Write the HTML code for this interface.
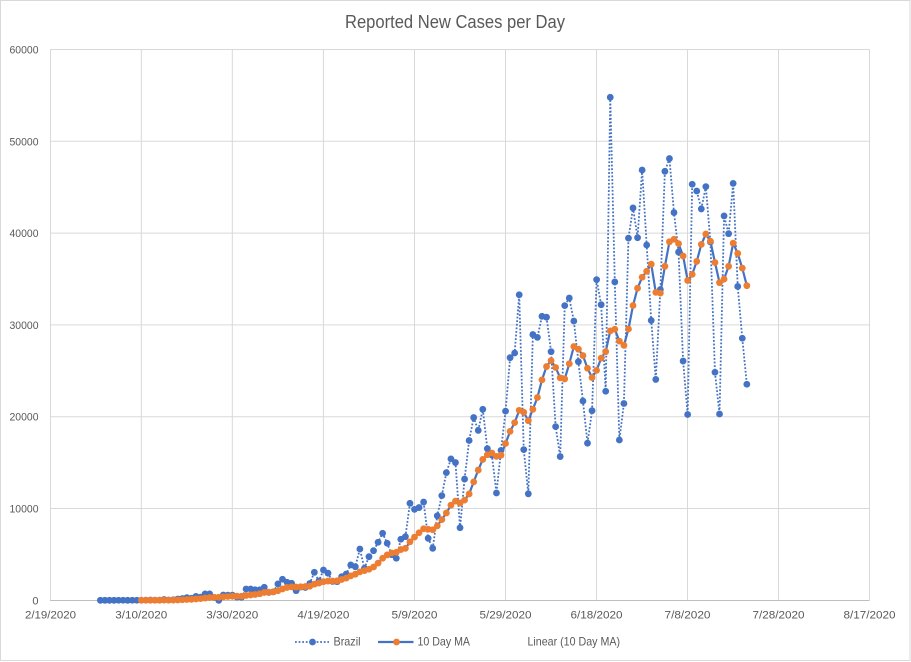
<!DOCTYPE html>
<html>
<head>
<meta charset="utf-8">
<style>
html,body{margin:0;padding:0;background:#fff;}
svg{display:block;}
text{font-family:"Liberation Sans",Arial,sans-serif;fill:#595959;}
</style>
</head>
<body>
<svg id="chart" width="911" height="662" viewBox="0 0 911 662" xmlns="http://www.w3.org/2000/svg">
  <rect x="0.5" y="0.5" width="909.5" height="660" fill="#fff" stroke="#d9d9d9" stroke-width="1"/>
  <text x="455" y="28" font-size="18" text-anchor="middle" textLength="220" lengthAdjust="spacingAndGlyphs">Reported New Cases per Day</text>

  <g id="grid" stroke="#d9d9d9" stroke-width="1" fill="none">
    <line x1="50" y1="49.5" x2="869.5" y2="49.5"/>
    <line x1="50" y1="141.3" x2="869.5" y2="141.3"/>
    <line x1="50" y1="233.1" x2="869.5" y2="233.1"/>
    <line x1="50" y1="324.9" x2="869.5" y2="324.9"/>
    <line x1="50" y1="416.7" x2="869.5" y2="416.7"/>
    <line x1="50" y1="508.5" x2="869.5" y2="508.5"/>
    <line x1="50.5" y1="49.5" x2="50.5" y2="600.3"/>
    <line x1="141.3" y1="49.5" x2="141.3" y2="600.3"/>
    <line x1="232.3" y1="49.5" x2="232.3" y2="600.3"/>
    <line x1="323.4" y1="49.5" x2="323.4" y2="600.3"/>
    <line x1="414.5" y1="49.5" x2="414.5" y2="600.3"/>
    <line x1="505.5" y1="49.5" x2="505.5" y2="600.3"/>
    <line x1="596.5" y1="49.5" x2="596.5" y2="600.3"/>
    <line x1="687.5" y1="49.5" x2="687.5" y2="600.3"/>
    <line x1="778.5" y1="49.5" x2="778.5" y2="600.3"/>
    <line x1="869.5" y1="49.5" x2="869.5" y2="600.3"/>
  </g>
  <line x1="50" y1="600.5" x2="869.5" y2="600.5" stroke="#bfbfbf" stroke-width="1"/>

  <g font-size="11" text-anchor="end">
    <text x="38.5" y="53.5" textLength="29" lengthAdjust="spacingAndGlyphs">60000</text>
    <text x="38.5" y="145.3" textLength="29" lengthAdjust="spacingAndGlyphs">50000</text>
    <text x="38.5" y="237.1" textLength="29" lengthAdjust="spacingAndGlyphs">40000</text>
    <text x="38.5" y="328.9" textLength="29" lengthAdjust="spacingAndGlyphs">30000</text>
    <text x="38.5" y="420.7" textLength="29" lengthAdjust="spacingAndGlyphs">20000</text>
    <text x="38.5" y="512.5" textLength="29" lengthAdjust="spacingAndGlyphs">10000</text>
    <text x="38.5" y="604.3">0</text>
  </g>

  <g font-size="11" text-anchor="middle">
    <text x="50.5" y="618.5" textLength="51" lengthAdjust="spacingAndGlyphs">2/19/2020</text>
    <text x="141.3" y="618.5" textLength="52" lengthAdjust="spacingAndGlyphs">3/10/2020</text>
    <text x="232.3" y="618.5" textLength="52" lengthAdjust="spacingAndGlyphs">3/30/2020</text>
    <text x="323.4" y="618.5" textLength="52" lengthAdjust="spacingAndGlyphs">4/19/2020</text>
    <text x="414.5" y="618.5" textLength="46" lengthAdjust="spacingAndGlyphs">5/9/2020</text>
    <text x="505.5" y="618.5" textLength="52" lengthAdjust="spacingAndGlyphs">5/29/2020</text>
    <text x="596.5" y="618.5" textLength="52" lengthAdjust="spacingAndGlyphs">6/18/2020</text>
    <text x="687.5" y="618.5" textLength="46" lengthAdjust="spacingAndGlyphs">7/8/2020</text>
    <text x="778.5" y="618.5" textLength="52" lengthAdjust="spacingAndGlyphs">7/28/2020</text>
    <text x="869.5" y="618.5" textLength="52" lengthAdjust="spacingAndGlyphs">8/17/2020</text>
  </g>

  <g id="series"></g>

  <!-- legend -->
  <line x1="295" y1="642" x2="329" y2="642" stroke="#4472C4" stroke-width="1.8" stroke-dasharray="1.8 1.8"/>
  <circle cx="312.5" cy="642" r="3.4" fill="#4472C4"/>
  <text x="333.5" y="645.5" font-size="12" textLength="27" lengthAdjust="spacingAndGlyphs">Brazil</text>
  <line x1="378" y1="642" x2="413.5" y2="642" stroke="#4472C4" stroke-width="2.2"/>
  <circle cx="396.5" cy="642" r="3.4" fill="#ED7D31"/>
  <text x="417.5" y="645.5" font-size="12" textLength="52.5" lengthAdjust="spacingAndGlyphs">10 Day MA</text>
  <text x="527.5" y="645.5" font-size="12" textLength="92.5" lengthAdjust="spacingAndGlyphs">Linear (10 Day MA)</text>
</svg>
<script>
(function(){
var v=[0,1,0,0,2,4,0,7,5,
9,18,25,21,23,79,34,57,137,193,
283,224,418,345,690,690,310,0,580,560,
560,352,330,1230,1230,1150,1146,1420,852,926,
1780,2290,1960,1850,1050,1442,1400,1832,3050,2105,
3300,2950,2055,2030,2570,2860,3850,3660,5590,3480,
4750,5400,6320,7300,6210,4970,4580,6650,6930,10570,
9900,10100,10700,6750,5660,9200,11400,13900,15400,15000,
7900,13200,17400,19900,18500,20800,16508,15813,11687,16324,
20599,26417,26928,33274,16409,11598,28936,28633,30925,30830,
27075,18912,15654,32091,32913,30412,25982,21704,17110,20647,
34918,32188,22765,54771,34666,17459,21432,39436,42725,39483,
46860,38693,30476,24052,33846,46712,48105,42223,37923,26051,
20229,45305,44571,42619,45048,39023,24831,20286,41857,39924,
45403,34177,28532,23529];
var NS="http://www.w3.org/2000/svg";
var g=document.getElementById("series");
function X(p){return 50.3+p*4.5525;}
function Y(c){return 600.3-c*(551/60000);}
function el(n,a){var e=document.createElementNS(NS,n);for(var k in a)e.setAttribute(k,a[k]);g.appendChild(e);return e;}
var pts=[],i;
for(i=0;i<v.length;i++){pts.push(X(i+11).toFixed(2)+","+Y(v[i]).toFixed(2));}
el("polyline",{points:pts.join(" "),fill:"none",stroke:"#4472C4","stroke-width":"1.8","stroke-dasharray":"1.8 1.8"});
for(i=0;i<v.length;i++){el("circle",{cx:X(i+11).toFixed(2),cy:Y(v[i]).toFixed(2),r:"3.4",fill:"#4472C4"});}
var ma=[];
for(i=9;i<v.length;i++){var s=0;for(var j=i-9;j<=i;j++)s+=v[j];ma.push([X(i+11),Y(s/10)]);}
el("polyline",{points:ma.map(function(q){return q[0].toFixed(2)+","+q[1].toFixed(2);}).join(" "),fill:"none",stroke:"#4472C4","stroke-width":"2.2","stroke-linejoin":"round"});
for(i=0;i<ma.length;i++){el("circle",{cx:ma[i][0].toFixed(2),cy:ma[i][1].toFixed(2),r:"3.4",fill:"#ED7D31"});}
})();
</script>
</body>
</html>
